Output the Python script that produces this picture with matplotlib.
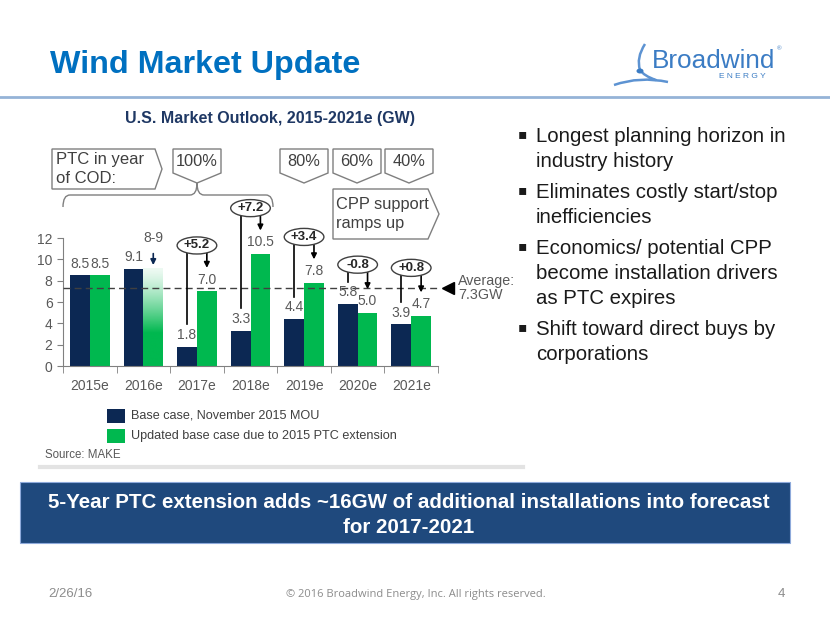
import numpy as np
import matplotlib
matplotlib.use('Agg')
import matplotlib.pyplot as plt
from matplotlib.patches import Polygon, Ellipse, Rectangle, PathPatch
from matplotlib.path import Path

plt.rcParams['font.family'] = ['Liberation Sans', 'DejaVu Sans']

# chart data
years = ['2015e', '2016e', '2017e', '2018e', '2019e', '2020e', '2021e']
base_case = [8.5, 9.1, 1.8, 3.3, 4.4, 5.8, 3.9]
updated_case = [8.5, 9.1, 7.0, 10.5, 7.8, 5.0, 4.7]
updated_labels = ['8.5', '8-9', '7.0', '10.5', '7.8', '5.0', '4.7']
average = 7.3
ptc_labels = ['100%', '80%', '60%', '40%']
series_names = ['Base case, November 2015 MOU',
                'Updated base case due to 2015 PTC extension']
bullets = [
    ['Longest planning horizon in', 'industry history'],
    ['Eliminates costly start/stop', 'inefficiencies'],
    ['Economics/ potential CPP', 'become installation drivers', 'as PTC expires'],
    ['Shift toward direct buys by', 'corporations'],
]

NAVY = '#0c2853'
GREEN = '#00b84f'
GRAY = '#595959'

fig = plt.figure(figsize=(8.3, 6.23), dpi=100)

# slide background layer in pixel coordinates
bg = fig.add_axes([0, 0, 1, 1], zorder=0)
bg.set_xlim(0, 830)
bg.set_ylim(623, 0)
bg.axis('off')

bg.text(50, 73, 'Wind Market Update', fontsize=23.2, fontweight='bold',
        color='#0070c0', va='baseline')
bg.plot([0, 830], [97, 97], color='#95b3d7', lw=2)
bg.text(270, 123, 'U.S. Market Outlook, 2015-2021e (GW)', fontsize=11.5,
        fontweight='bold', color='#1f3864', ha='center', va='baseline')

# logo
bg.text(652, 68, 'Broadwind', fontsize=18.8, color='#3b7cc4', va='baseline')
bg.text(777, 50, '®', fontsize=4.5, color='#3b7cc4')
bg.text(742, 78, 'E N E R G Y', fontsize=6, color='#3b7cc4', ha='center',
        va='baseline')
figure_path = Path([(645, 44), (636, 58), (640, 70), (644, 76), (656, 80),
                    (614, 85), (640, 76), (668, 82)],
                   [Path.MOVETO, Path.CURVE3, Path.CURVE3, Path.CURVE3,
                    Path.CURVE3, Path.MOVETO, Path.CURVE3, Path.CURVE3])
bg.add_patch(PathPatch(figure_path, fill=False, edgecolor='#5d93d2', lw=1.8))
bg.add_patch(Ellipse((640, 71), 7, 5, facecolor='#3b7cc4', edgecolor='none'))

# PTC boxes above chart
box_kw = dict(facecolor='white', edgecolor='#7f7f7f', lw=1)
bg.add_patch(Polygon([(52, 149), (155, 149), (162, 169), (155, 189), (52, 189)],
                     **box_kw))
bg.text(56, 169, 'PTC in year\nof COD:', fontsize=12, color='#404040',
        va='center', linespacing=1.3)
for lbl, x0 in zip(ptc_labels, [173, 280, 333, 385]):
    w = 48
    bg.add_patch(Polygon([(x0, 149), (x0 + w, 149), (x0 + w, 173),
                          (x0 + w / 2, 183), (x0, 173)], **box_kw))
    bg.text(x0 + w / 2, 162, lbl, fontsize=11.8, color='#404040',
            ha='center', va='center')
bg.add_patch(Polygon([(333, 189), (428, 189), (439, 214), (428, 239), (333, 239)],
                     **box_kw))
bg.text(336, 214, 'CPP support\nramps up', fontsize=11.8, color='#404040',
        va='center', linespacing=1.3)
brace = Path([(63, 207), (63, 195), (70, 195), (190, 195), (197, 195),
              (197, 183), (197, 195), (204, 195), (266, 195), (273, 195),
              (273, 207)],
             [Path.MOVETO, Path.CURVE3, Path.CURVE3, Path.LINETO, Path.CURVE3,
              Path.CURVE3, Path.CURVE3, Path.CURVE3, Path.LINETO, Path.CURVE3,
              Path.CURVE3])
bg.add_patch(PathPatch(brace, fill=False, edgecolor='#7f7f7f', lw=1))

# legend and source
for i, (name, col) in enumerate(zip(series_names, [NAVY, GREEN])):
    y = 409 + i * 20
    bg.add_patch(Rectangle((107, y), 18, 14, facecolor=col, edgecolor='none'))
    bg.text(131, y + 7, name, fontsize=9.1, color='#404040', va='center')
bg.text(45, 455, 'Source: MAKE', fontsize=8.3, color=GRAY, va='center')
bg.plot([40, 523], [467, 467], color='#e3e3e3', lw=3)

# bullets
y = 142
for item in bullets:
    bg.text(518, y - 4, '\u25aa', fontsize=10, color='#1a1a1a',
            va='baseline', family=['DejaVu Sans'])
    for line in item:
        bg.text(536, y, line, fontsize=14.7, color='#1a1a1a', va='baseline')
        y += 25
    y += 6

# bottom banner
bg.add_patch(Rectangle((20, 482), 770, 61, facecolor='#1f497d',
                       edgecolor='#8eaadb', lw=0.8))
bg.text(409, 515, '5-Year PTC extension adds ~16GW of additional installations '
        'into forecast\nfor 2017-2021', fontsize=14.8, fontweight='bold',
        color='white', ha='center', va='center', linespacing=1.45)

# footer
bg.text(48, 594, '2/26/16', fontsize=9.5, color='#8c8c8c', va='center')
bg.text(416, 594, '\u00a9 2016 Broadwind Energy, Inc. All rights reserved.',
        fontsize=8, color='#8c8c8c', ha='center', va='center',
        family=['Open Sans', 'DejaVu Sans'])
bg.text(778, 594, '4', fontsize=9.5, color='#8c8c8c', va='center')

# chart axes
ax = fig.add_axes([63 / 830, 257 / 623, 375 / 830, 128 / 623], zorder=1)
ax.patch.set_alpha(0)
x = np.arange(len(years))
bw = 0.37
ax.bar(x - bw / 2, base_case, bw, color=NAVY, zorder=2)
for i, v in enumerate(updated_case):
    if updated_labels[i] == '8-9':
        # faded bar for the uncertain 2016 range
        yy = np.linspace(0, v, 200)
        alpha = 0.07 + 0.93 * np.clip((v - yy) / 6.0, 0, 1) ** 1.3
        img = np.zeros((200, 1, 4))
        img[..., :3] = matplotlib.colors.to_rgb(GREEN)
        img[:, 0, 3] = alpha
        ax.imshow(img, extent=[i, i + bw, 0, v], origin='lower',
                  aspect='auto', zorder=2)
    else:
        ax.bar(i + bw / 2, v, bw, color=GREEN, zorder=2)

for i in range(len(years)):
    ax.text(i - bw / 2, base_case[i] + 0.45, f'{base_case[i]:.1f}',
            ha='center', va='bottom', fontsize=10, color=GRAY, zorder=5)
    if updated_labels[i] == '8-9':
        ax.text(i + bw / 2, 11.3, updated_labels[i], ha='center',
                va='bottom', fontsize=10, color=GRAY)
        ax.annotate('', xy=(i + bw / 2, 9.2), xytext=(i + bw / 2, 10.8),
                    arrowprops=dict(arrowstyle='-|>', color=NAVY, lw=1.2,
                                    mutation_scale=8), annotation_clip=False)
    else:
        ax.text(i + bw / 2, updated_case[i] + 0.45, updated_labels[i],
                ha='center', va='bottom', fontsize=10, color=GRAY, zorder=5)

# change brackets
bracket_y = [11.3, 14.8, 12.1, 9.5, 9.2]
for k, i in enumerate(range(2, 7)):
    ey = bracket_y[k]
    delta = updated_case[i] - base_case[i]
    ax.plot([i - bw / 2, i - bw / 2], [base_case[i] + 2.1, ey], color='black',
            lw=1.2, clip_on=False, zorder=6)
    ax.annotate('', xy=(i + bw / 2, updated_case[i] + 2.2),
                xytext=(i + bw / 2, ey), zorder=6,
                arrowprops=dict(arrowstyle='-|>', color='black', lw=1.2,
                                mutation_scale=8, shrinkA=0, shrinkB=0),
                annotation_clip=False)
    ax.add_patch(Ellipse((i, ey), 0.74, 1.6, facecolor='white',
                         edgecolor='#404040', lw=1, clip_on=False, zorder=7))
    ax.text(i, ey, f'{delta:+.1f}', ha='center', va='center', fontsize=9.5,
            fontweight='bold', color='#262626', zorder=8)

# average line
ax.axhline(average, color='#404040', lw=1, ls=(0, (5, 3)), zorder=4)
ax.plot(6.69, average, marker='<', markersize=8, color='black',
        clip_on=False)
ax.text(6.87, average, f'Average:\n{average}GW', fontsize=10.3, color=GRAY,
        va='center', linespacing=1.0)

ax.set_xlim(-0.5, 6.5)
ax.set_ylim(0, 12)
ax.set_yticks(range(0, 13, 2))
ax.set_xticks(x)
ax.set_xticklabels(years)
ax.set_xticks(np.arange(-0.5, 7, 1), minor=True)
ax.tick_params(axis='x', which='major', length=0, pad=9, labelsize=10,
               labelcolor=GRAY)
ax.tick_params(axis='x', which='minor', length=5, color='#808080')
ax.tick_params(axis='y', length=4, color='#808080', labelsize=10,
               labelcolor=GRAY)
for s in ['top', 'right']:
    ax.spines[s].set_visible(False)
for s in ['left', 'bottom']:
    ax.spines[s].set_color('#808080')

fig.savefig('out.png', dpi=100)
